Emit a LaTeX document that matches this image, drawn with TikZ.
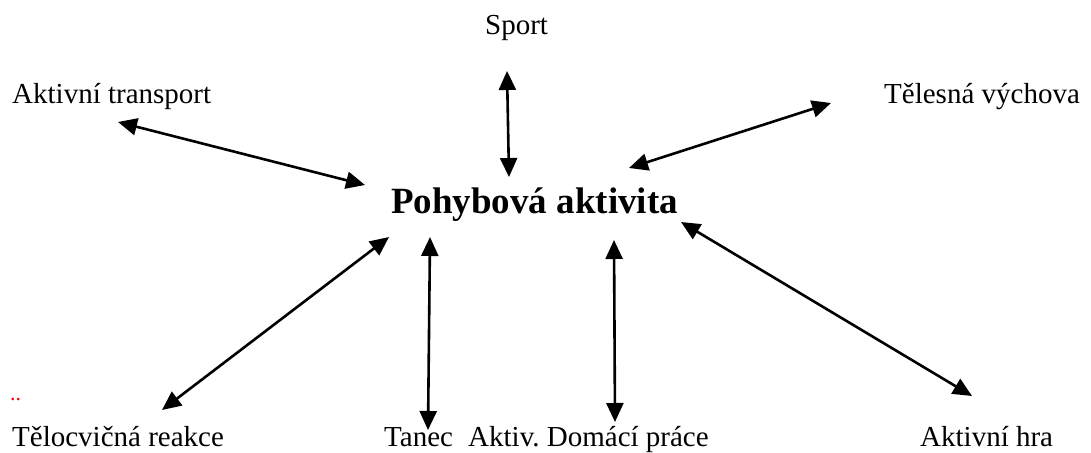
\documentclass[tikz,border=0pt]{standalone}
\usepackage{fontspec}
\setmainfont{Liberation Serif}
\usetikzlibrary{arrows.meta}
\frenchspacing
\begin{document}
\begin{tikzpicture}[x=1pt,y=-1pt,
  lbl/.style={anchor=base west,inner sep=0pt,font=\fontsize{29}{34}\selectfont},
  ttl/.style={anchor=base west,inner sep=0pt,font=\fontsize{37}{44}\selectfont\bfseries},
  dbl/.style={line width=2.6pt,{Triangle[length=19pt,width=17pt]}-{Triangle[length=19pt,width=17pt]}}]
\useasboundingbox (0,0) rectangle (1091,452);
\node[ttl] (center) at (391,213) {Pohybová aktivita};
\node[lbl] (transport) at (12,103) {Aktivní transport};
\node[lbl] (sport) at (485,35) {Sport};
\node[lbl] (telesna) at (884,103) {Tělesná výchova};
\node[lbl] (telocvicna) at (12,446) {Tělocvičná reakce};
\node[lbl] (tanec) at (384,446) {Tanec};
\node[lbl] (domaci) at (468,446) {Aktiv.\ Domácí práce};
\node[lbl] (hra) at (920,446) {Aktivní hra};
\node[anchor=base west,inner sep=0pt,text=red,font=\fontsize{22}{22}\selectfont] (dots) at (10,400) {..};
\coordinate (a1) at (118,122); \coordinate (b1) at (365,185);
\coordinate (a2) at (507,71);  \coordinate (b2) at (509,177);
\coordinate (a3) at (831,103); \coordinate (b3) at (629,168);
\coordinate (a4) at (162,410); \coordinate (b4) at (389,237);
\coordinate (a5) at (428,430); \coordinate (b5) at (430,237);
\coordinate (a6) at (615,422); \coordinate (b6) at (614,240);
\coordinate (a7) at (972,396); \coordinate (b7) at (681,222);
\foreach \i in {1,...,7} \draw[dbl] (a\i) -- (b\i);
\end{tikzpicture}
\end{document}
